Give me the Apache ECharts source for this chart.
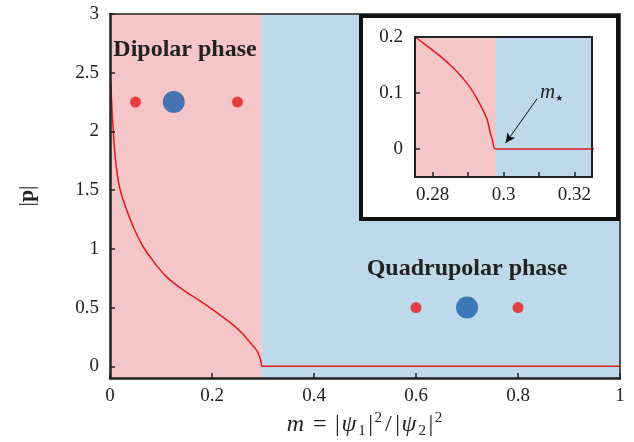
<!DOCTYPE html>
<html>
<head>
<meta charset="utf-8">
<script src="https://cdn.jsdelivr.net/npm/echarts@6/dist/echarts.min.js"></script>
<style>
  html, body { margin: 0; padding: 0; background: #fff; }
  #chart { width: 634px; height: 442px; }
</style>
</head>
<body>
<div id="chart"></div>
<script>
// Order parameter |p| versus the population ratio m
const mValues = [0.0015, 0.004, 0.0065, 0.0098, 0.0144, 0.019, 0.0255, 0.0353, 0.0484, 0.0647,
  0.0876, 0.111, 0.144, 0.1765, 0.209, 0.242, 0.2614, 0.2751, 0.2817, 0.2864,
  0.2901, 0.293, 0.2953, 0.2962, 0.2969, 0.2979, 1.0];
const pValues = [2.43, 2.18, 2.0, 1.80, 1.63, 1.52, 1.42, 1.30, 1.16, 1.02,
  0.88, 0.761, 0.648, 0.557, 0.458, 0.350, 0.270, 0.200, 0.168, 0.141,
  0.114, 0.084, 0.054, 0.030, 0.015, 0, 0];

// Critical ratio separating the two phases
const mCritical = 0.2979;
const dipolarRange = [0, mCritical];
const quadrupolarRange = [mCritical, 1];

// Pictograms of the condensate components
const dipolarSmall = [[0.05, 2.25], [0.25, 2.25]];
const dipolarLarge = [[0.125, 2.25]];
const quadSmall = [[0.6, 0.5], [0.8, 0.5]];
const quadLarge = [[0.7, 0.5]];

// Tick labels
const mainTicksY = [0, 0.5, 1, 1.5, 2, 2.5, 3];
const mainTicksX = [0, 0.2, 0.4, 0.6, 0.8, 1];
const insetTicksX = [0.28, 0.29, 0.3, 0.31, 0.32];
const insetLabelsX = [0.28, 0.3, 0.32];
const insetTicksY = [0, 0.1, 0.2];

// Arrow pointing at m*
const arrowFrom = [0.3095, 0.09];
const arrowTo = [0.3006, 0.0105];

const FONT = "'Liberation Serif', 'DejaVu Serif', serif";
const INK = '#222';
const PINK = '#f5c6c8';
const BLUE = '#bed9ea';
const RED = '#e31a1c';
const DARKBLUE = '#1b5fab';

const curve = mValues.map((m, i) => [m, pValues[i]]);

function phaseAreas(z) {
  return {
    silent: true, z: z,
    itemStyle: { opacity: 1 },
    data: [
      [{ xAxis: dipolarRange[0], itemStyle: { color: PINK } }, { xAxis: dipolarRange[1] }],
      [{ xAxis: quadrupolarRange[0], itemStyle: { color: BLUE } }, { xAxis: quadrupolarRange[1] }]
    ]
  };
}

const labelStyle = { fontFamily: FONT, fontSize: 19, color: INK };

function frameAxis(gridIndex, position, width, z, min, max) {
  return {
    gridIndex, type: 'value', min, max, position, z,
    axisLine: { onZero: false, lineStyle: { color: INK, width } },
    axisTick: { show: false }, axisLabel: { show: false }, splitLine: { show: false }
  };
}

// Rich-text pieces for the axis title m = |psi_1|^2/|psi_2|^2
const NAME_SIZE = 24;
const nameRich = {
  i: { fontFamily: FONT, fontStyle: 'italic', fontSize: NAME_SIZE, color: INK, lineHeight: 28, padding: [0, 2, 0, 0] },
  eq: { fontFamily: FONT, fontSize: NAME_SIZE, color: INK, lineHeight: 28, padding: [0, 7, 0, 7] },
  bar: { fontFamily: FONT, fontSize: NAME_SIZE, color: INK, lineHeight: 28, padding: [0, 1.5, 0, 1.5] },
  sl: { fontFamily: FONT, fontSize: NAME_SIZE, color: INK, lineHeight: 28, padding: [0, 2, 0, 2] },
  sub: { fontFamily: FONT, fontSize: 15, color: INK, verticalAlign: 'bottom', lineHeight: 15, padding: [0, 1, 0, 0] },
  sup: { fontFamily: FONT, fontSize: 15, color: INK, verticalAlign: 'top', lineHeight: 15, padding: [0, 1, 0, 0] }
};

const chart = echarts.init(document.getElementById('chart'), null, { renderer: 'canvas' });

chart.setOption({
  animation: false,
  backgroundColor: '#fff',
  grid: [
    { left: 110, top: 14, width: 510, height: 364, outerBoundsMode: 'none', containLabel: false },
    { left: 415, top: 37, width: 177, height: 140, z: 10, outerBoundsMode: 'none', containLabel: false }
  ],
  xAxis: [
    {
      gridIndex: 0, type: 'value', min: 0, max: 1, interval: 0.2, position: 'bottom', z: 5,
      axisLine: { onZero: false, lineStyle: { color: INK, width: 2.5 } },
      axisTick: { inside: true, length: 5, lineStyle: { color: INK, width: 1.5 } },
      axisLabel: Object.assign({ margin: 9, customValues: mainTicksX }, labelStyle),
      splitLine: { show: false },
      name: '{i|m}{eq|=}{bar||}{i|ψ}{sub|1}{bar||}{sup|2}{sl|/}{bar||}{i|ψ}{sub|2}{bar||}{sup|2}',
      nameLocation: 'middle', nameGap: 33,
      nameTextStyle: { fontFamily: FONT, fontSize: NAME_SIZE, color: INK, lineHeight: 28, rich: nameRich }
    },
    frameAxis(0, 'top', 1.5, 5, 0, 1),
    {
      gridIndex: 1, type: 'value', min: 0.275, max: 0.325, position: 'bottom', z: 12,
      axisLine: { onZero: false, lineStyle: { color: INK, width: 2 } },
      axisTick: { inside: true, length: 5, customValues: insetTicksX, lineStyle: { color: INK, width: 1.5 } },
      axisLabel: Object.assign({ margin: 9, customValues: insetLabelsX }, labelStyle),
      splitLine: { show: false }
    },
    frameAxis(1, 'top', 2, 12, 0.275, 0.325)
  ],
  yAxis: [
    {
      gridIndex: 0, type: 'value', min: -0.1, max: 3, position: 'left', z: 5,
      axisLine: { onZero: false, lineStyle: { color: INK, width: 2.5 } },
      axisTick: { inside: true, length: 5, customValues: mainTicksY, lineStyle: { color: INK, width: 1.5 } },
      axisLabel: Object.assign({ margin: 11, customValues: mainTicksY }, labelStyle),
      splitLine: { show: false },
      name: '|{b|p}|', nameLocation: 'middle', nameGap: 72, nameRotate: 90,
      nameTextStyle: {
        fontFamily: FONT, fontSize: 22, color: INK,
        rich: { b: { fontFamily: FONT, fontWeight: 'bold', fontSize: 22, color: INK } }
      }
    },
    frameAxis(0, 'right', 1.5, 5, -0.1, 3),
    {
      gridIndex: 1, type: 'value', min: -0.05, max: 0.2, position: 'left', z: 12,
      axisLine: { onZero: false, lineStyle: { color: INK, width: 2 } },
      axisTick: { inside: true, length: 5, customValues: insetTicksY, lineStyle: { color: INK, width: 1.5 } },
      axisLabel: Object.assign({ margin: 12, customValues: insetTicksY }, labelStyle),
      splitLine: { show: false }
    },
    frameAxis(1, 'right', 2, 12, -0.05, 0.2)
  ],
  graphic: [
    {
      type: 'rect', z: 8,
      shape: { x: 361, y: 16, width: 257, height: 203 },
      style: { fill: '#fff', stroke: '#111', lineWidth: 4 }
    },
    {
      type: 'text', z: 6, x: 185, y: 50,
      style: {
        text: 'Dipolar phase', fontFamily: FONT, fontWeight: 'bold', fontSize: 24,
        fill: INK, align: 'center', verticalAlign: 'middle'
      }
    },
    {
      type: 'text', z: 6, x: 467, y: 269,
      style: {
        text: 'Quadrupolar phase', fontFamily: FONT, fontWeight: 'bold', fontSize: 24,
        fill: INK, align: 'center', verticalAlign: 'middle'
      }
    },
    {
      type: 'text', z: 14, x: 540, y: 92,
      style: {
        text: '{i|m}{s|★}', verticalAlign: 'middle',
        rich: {
          i: { fontFamily: FONT, fontStyle: 'italic', fontSize: 21, fill: INK, lineHeight: 22 },
          s: { fontFamily: "'DejaVu Sans', sans-serif", fontSize: 9, fill: INK, verticalAlign: 'bottom', lineHeight: 12 }
        }
      }
    }
  ],
  series: [
    {
      name: 'phase', type: 'line', xAxisIndex: 0, yAxisIndex: 0, z: 2,
      data: curve, showSymbol: false, smooth: 0.4,
      lineStyle: { color: RED, width: 1.5 },
      markArea: phaseAreas(1)
    },
    {
      name: 'small', type: 'scatter', xAxisIndex: 0, yAxisIndex: 0, z: 3,
      data: dipolarSmall.concat(quadSmall), symbolSize: 11,
      itemStyle: { color: RED }
    },
    {
      name: 'large', type: 'scatter', xAxisIndex: 0, yAxisIndex: 0, z: 3,
      data: dipolarLarge.concat(quadLarge), symbolSize: 22,
      itemStyle: { color: DARKBLUE }
    },
    {
      name: 'inset', type: 'line', xAxisIndex: 2, yAxisIndex: 2, z: 10,
      data: curve, showSymbol: false, smooth: 0.4, clip: true,
      lineStyle: { color: RED, width: 1.5 },
      markArea: phaseAreas(9),
      markLine: {
        silent: true, z: 13, symbol: ['none', 'arrow'], symbolSize: [7, 10],
        label: { show: false },
        lineStyle: { color: '#111', width: 1, type: 'solid' },
        data: [[{ coord: arrowFrom }, { coord: arrowTo }]]
      }
    }
  ]
});
</script>
</body>
</html>
